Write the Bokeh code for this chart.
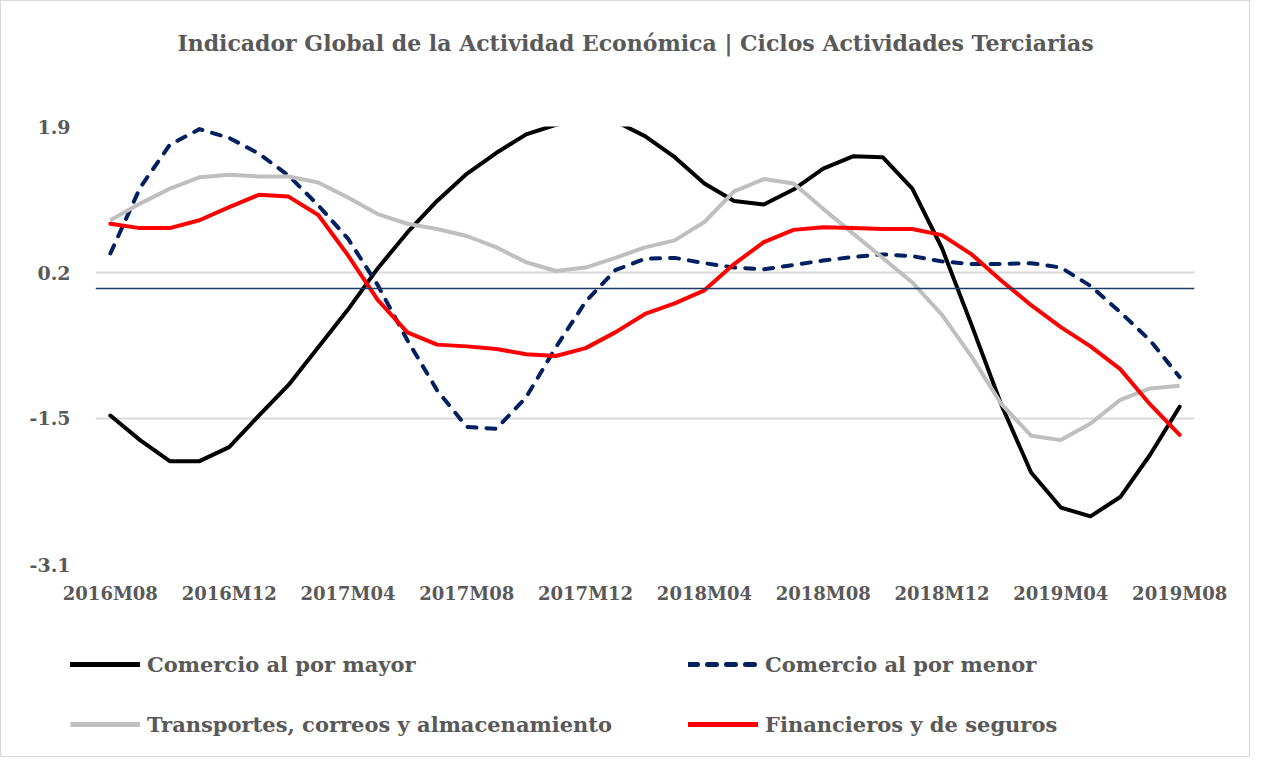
from bokeh.plotting import figure
from bokeh.layouts import column
from bokeh.models import FixedTicker, Span, Legend, LegendItem, Label
from bokeh.embed import file_html
from bokeh.resources import INLINE

# ---- data ----
months = ["2016M08", "2016M09", "2016M10", "2016M11", "2016M12", "2017M01", "2017M02",
          "2017M03", "2017M04", "2017M05", "2017M06", "2017M07", "2017M08", "2017M09",
          "2017M10", "2017M11", "2017M12", "2018M01", "2018M02", "2018M03", "2018M04",
          "2018M05", "2018M06", "2018M07", "2018M08", "2018M09", "2018M10", "2018M11",
          "2018M12", "2019M01", "2019M02", "2019M03", "2019M04", "2019M05", "2019M06",
          "2019M07", "2019M08"]

mayor = [-1.45, -1.73, -1.97, -1.97, -1.81, -1.45, -1.10, -0.67, -0.24, 0.23, 0.64, 1.00,
         1.31, 1.55, 1.76, 1.87, 1.92, 1.91, 1.74, 1.50, 1.20, 1.00, 0.96, 1.13, 1.37,
         1.51, 1.50, 1.14, 0.46, -0.42, -1.33, -2.10, -2.50, -2.60, -2.38, -1.90, -1.35]

menor = [0.40, 1.15, 1.64, 1.82, 1.72, 1.54, 1.29, 0.95, 0.57, 0.04, -0.59, -1.16,
         -1.58, -1.60, -1.24, -0.67, -0.15, 0.21, 0.34, 0.35, 0.29, 0.24, 0.22, 0.27, 0.32,
         0.36, 0.39, 0.37, 0.31, 0.28, 0.28, 0.29, 0.24, 0.03, -0.27, -0.59, -1.01]

transportes = [0.78, 0.97, 1.14, 1.27, 1.30, 1.28, 1.28, 1.21, 1.04, 0.85, 0.74, 0.68,
               0.60, 0.47, 0.30, 0.20, 0.24, 0.35, 0.47, 0.55, 0.76, 1.11, 1.25, 1.20, 0.91,
               0.63, 0.35, 0.07, -0.30, -0.78, -1.32, -1.68, -1.73, -1.54, -1.27, -1.14, -1.11]

financieros = [0.74, 0.69, 0.69, 0.78, 0.93, 1.07, 1.05, 0.84, 0.38, -0.13, -0.50, -0.64,
               -0.66, -0.69, -0.75, -0.77, -0.68, -0.50, -0.29, -0.17, -0.02, 0.28, 0.53, 0.67,
               0.70, 0.69, 0.68, 0.68, 0.61, 0.39, 0.09, -0.19, -0.44, -0.66, -0.92, -1.32, -1.67]

x_tick_labels = ["2016M08", "2016M12", "2017M04", "2017M08", "2017M12",
                 "2018M04", "2018M08", "2018M12", "2019M04", "2019M08"]
y_ticks = [-3.15, -1.4833, 0.1833, 1.85]
y_tick_labels = ["-3.1", "-1.5", "0.2", "1.9"]

title = "Indicador Global de la Actividad Económica | Ciclos Actividades Terciarias"
names = ["Comercio al por mayor", "Comercio al por menor",
         "Transportes, correos y almacenamiento", "Financieros y de seguros"]

FONT = "DejaVu Serif"
TXT = "#595959"
W = 1248

x = list(range(len(months)))
x_ticks = [months.index(m) for m in x_tick_labels]

# ---- title strip ----
TH = 90
tf = figure(width=W, height=TH, output_backend="svg", toolbar_location=None,
            x_range=(0, W), y_range=(0, TH), x_axis_type=None, y_axis_type=None,
            min_border=0, outline_line_color=None, frame_align=False)
tf.grid.visible = False
tf.add_layout(Label(x=634, y=TH - 41, text=title, text_align="center", text_baseline="middle",
                    text_font=FONT, text_font_style="bold", text_font_size="22px",
                    text_color=TXT))

# ---- main chart ----
p = figure(width=W, height=550, output_backend="svg", toolbar_location=None,
           x_range=(-0.5, len(months) - 0.5), y_range=(y_ticks[0], y_ticks[-1]),
           min_border_left=94, min_border_right=55, min_border_top=35, min_border_bottom=77,
           frame_align=False)
p.outline_line_color = None

p.xgrid.grid_line_color = None
p.ygrid.grid_line_color = "#D9D9D9"
p.ygrid.grid_line_width = 2
p.ygrid.ticker = FixedTicker(ticks=y_ticks)

p.xaxis.ticker = FixedTicker(ticks=x_ticks)
p.xaxis.major_label_overrides = {t: l for t, l in zip(x_ticks, x_tick_labels)}
p.yaxis.ticker = FixedTicker(ticks=y_ticks)
p.yaxis.major_label_overrides = {t: l for t, l in zip(y_ticks, y_tick_labels)}
for ax in (p.xaxis, p.yaxis):
    ax.axis_line_color = None
    ax.major_tick_line_color = None
    ax.minor_tick_line_color = None
    ax.major_tick_out = 0
    ax.major_tick_in = 0
    ax.major_label_text_font = FONT
    ax.major_label_text_font_style = "bold"
    ax.major_label_text_color = TXT
p.xaxis.major_label_text_font_size = "18px"
p.xaxis.major_label_standoff = 18
p.yaxis.major_label_text_font_size = "19px"
p.yaxis.major_label_standoff = 25

p.add_layout(Span(location=0, dimension="width", line_color="#203864", line_width=1.5))

series = [(mayor, dict(line_color="black", line_join="round", line_cap="round")),
          (menor, dict(line_color="#002060", line_dash="9 10", line_join="round", line_cap="round")),
          (transportes, dict(line_color="#BFBFBF")),
          (financieros, dict(line_color="#FF0000", line_join="round", line_cap="round"))]
for ys, st in series:
    p.line(x, ys, line_width=4, **st)

# ---- legend strip ----
LH = 115
lf = figure(width=W, height=LH, output_backend="svg", toolbar_location=None,
            x_range=(0, 1), y_range=(0, 1), x_axis_type=None, y_axis_type=None,
            min_border=0, outline_line_color=None, frame_align=False)
lf.grid.visible = False
lr = []
for ys, st in series:
    r = lf.line(x, ys, line_width=5, **st)
    r.visible = False
    lr.append(r)

common = dict(orientation="vertical", glyph_width=70, glyph_height=26, label_height=26,
              label_standoff=7, spacing=34, padding=0, margin=0, click_policy="none",
              border_line_color=None, background_fill_alpha=0,
              label_text_font=FONT, label_text_font_style="bold",
              label_text_font_size="21px", label_text_color=TXT)
legend_a = Legend(items=[LegendItem(label=names[0], renderers=[lr[0]]),
                         LegendItem(label=names[2], renderers=[lr[2]])],
                  location=(69, 19), **common)
legend_b = Legend(items=[LegendItem(label=names[1], renderers=[lr[1]]),
                         LegendItem(label=names[3], renderers=[lr[3]])],
                  location=(687, 19), **common)
lf.add_layout(legend_a, "center")
lf.add_layout(legend_b, "center")

page = column(tf, p, lf, spacing=0)
page.styles = {"border": "1px solid #D9D9D9"}

open("out.html", "w").write(file_html(page, INLINE))
